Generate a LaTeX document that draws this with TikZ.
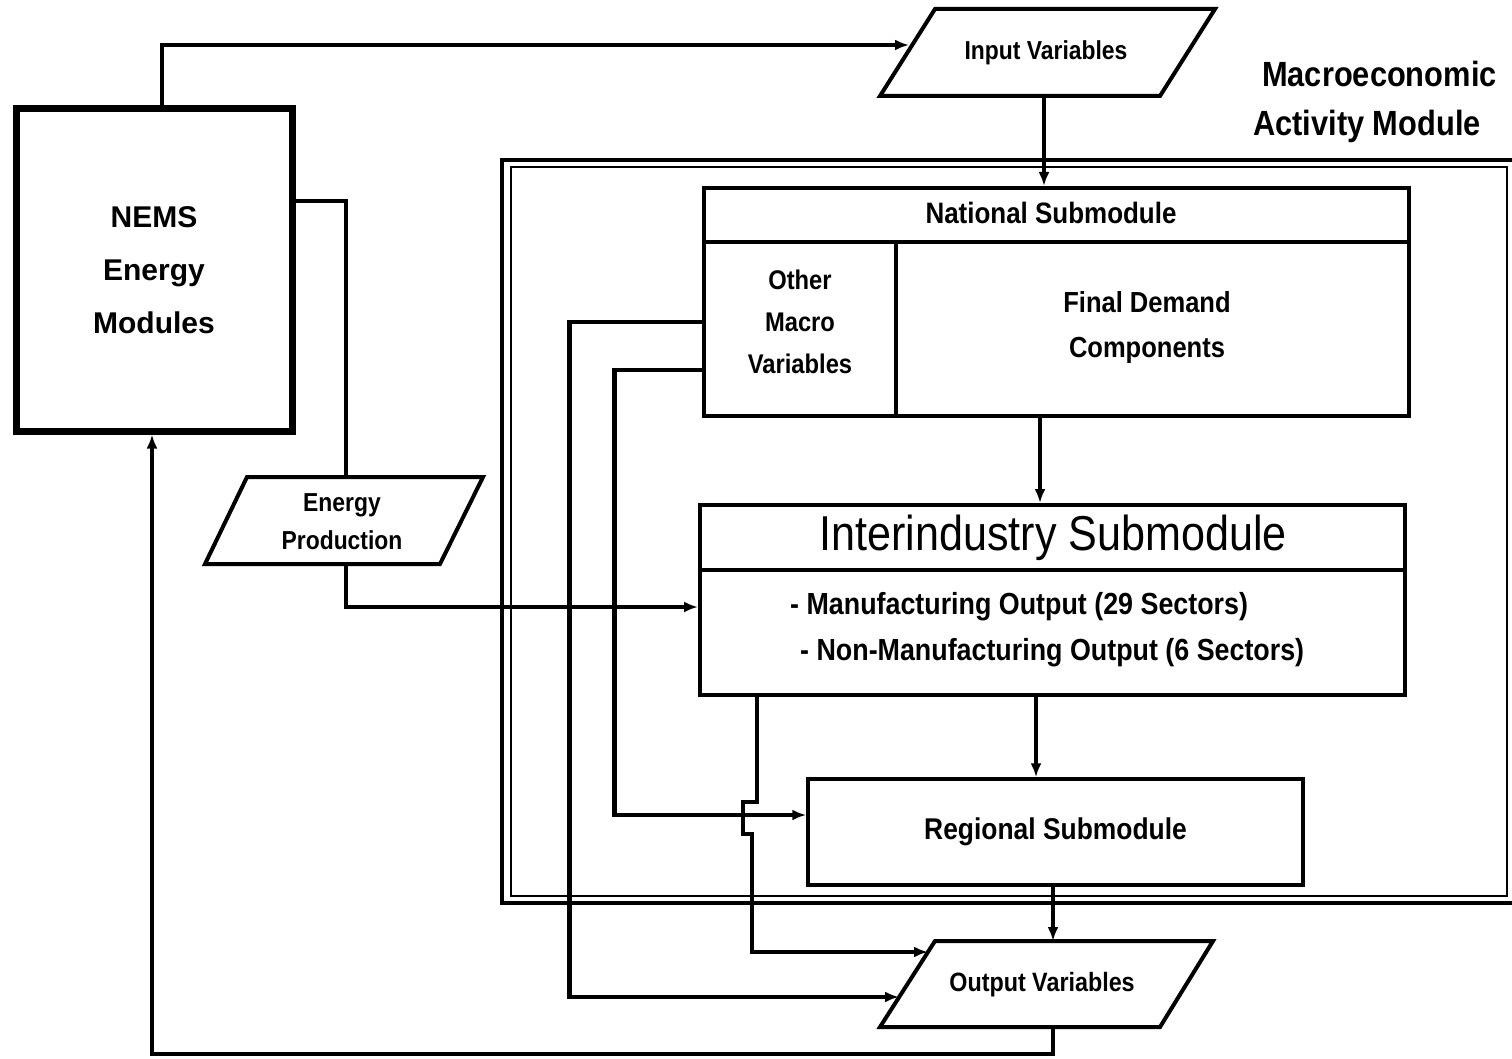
\documentclass[tikz,border=0pt]{standalone}
\usepackage{fontspec}
\setmainfont{Liberation Sans}
\newfontfamily\condfont{Liberation Sans}[FakeStretch=0.88]
\newfontfamily\cb{Liberation Sans}[FakeStretch=0.88]
\usetikzlibrary{arrows.meta}
\begin{document}
\begin{tikzpicture}[x=1pt,y=-1pt,
  box/.style={draw, line width=4pt, inner sep=0pt},
  conn/.style={line width=4.8pt},
  arr/.style={conn, -{Latex[length=14pt,width=11pt]}},
  txt/.style={inner sep=0pt, align=center}]
\clip (0,0) rectangle (1512,1059);
\fill[white] (0,0) rectangle (1512,1059);

% outer double frame of the Macroeconomic Activity Module
\draw[line width=4pt] (502,160) rectangle (1540,903);
\draw[line width=2.5pt] (511,167) rectangle (1507,896);

% NEMS
\node[box, line width=7pt, minimum width=276pt, minimum height=322pt, align=center,
      font=\bfseries\fontsize{30}{53}\selectfont] (nems) at (154,270) {NEMS\\Energy\\Modules};

% Input variables
\draw[line width=4pt] (935,9) -- (1215,9) -- (1160,96) -- (880,96) -- cycle;
\node[txt, font=\cb\bfseries\fontsize{26}{28}\selectfont] (iv) at (1046,53) {Input Variables};
\coordinate (ivW) at (909,45);
\coordinate (ivS) at (1044,96);

% module label
\node[inner sep=0pt, align=left, anchor=west, font=\cb\bfseries\fontsize{35}{49}\selectfont] (mam) at (1253,102) {\hspace*{9pt}Macroeconomic\\Activity Module};

% National submodule
\node[box, minimum width=705pt, minimum height=228pt] (natl) at (1056.5,302) {};
\draw[line width=4pt] (natl.west |- 0,242) -- (natl.east |- 0,242);
\draw[line width=4pt] (896,242) -- (natl.south -| 896,0);
\node[txt, font=\cb\bfseries\fontsize{29.5}{30}\selectfont] (natlT) at (1051,213) {National Submodule};
\node[txt, minimum width=192pt, font=\cb\bfseries\fontsize{27}{42}\selectfont] (omv) at (800,322) {Other\\Macro\\Variables};
\node[txt, font=\cb\bfseries\fontsize{29}{45}\selectfont] (fdc) at (1147,328) {Final Demand\\Components};

% Interindustry submodule
\node[box, minimum width=705pt, minimum height=190pt] (ind) at (1052.5,600) {};
\draw[line width=4pt] (ind.west |- 0,570) -- (ind.east |- 0,570);
\node[inner sep=0pt, font=\condfont\fontsize{49}{50}\selectfont] (indT) at (1053,538) {Interindustry Submodule};
\node[inner sep=0pt, anchor=west, align=left, font=\cb\bfseries\fontsize{30.5}{46}\selectfont] (indB) at (790,630) {- Manufacturing Output (29 Sectors)\\\hspace*{10pt}- Non-Manufacturing Output (6 Sectors)};

% Regional submodule
\node[box, line width=3.5pt, minimum width=495pt, minimum height=106pt,
      font=\cb\bfseries\fontsize{30}{30}\selectfont] (reg) at (1055.5,832) {Regional Submodule};

% Output variables
\draw[line width=4pt] (935,941) -- (1213,941) -- (1160,1027) -- (880,1027) -- cycle;
\node[txt, font=\cb\bfseries\fontsize{26.5}{28}\selectfont] (ov) at (1042,985) {Output Variables};
\coordinate (ovN) at (1053,941);
\coordinate (ovS) at (1053,1027);
\coordinate (ovW1) at (928,952);
\coordinate (ovW2) at (899,997);

% Energy production
\draw[line width=4pt] (247,477) -- (483,477) -- (440,564) -- (205,564) -- cycle;
\node[txt, font=\cb\bfseries\fontsize{26}{38}\selectfont] (ep) at (342,522) {Energy\\Production};
\coordinate (epN) at (346,477);
\coordinate (epS) at (346,564);

% connectors
\draw[arr] ([xshift=8pt]nems.north) |- (ivW);
\draw[arr] (ivS) -- (ivS |- natl.north);
\draw[arr] ([xshift=-16.5pt]natl.south) -- ([xshift=-16.5pt]natl.south |- ind.north);
\draw[arr] ([xshift=-16.5pt]ind.south) -- ([xshift=-16.5pt]ind.south |- reg.north);
\draw[arr] ([xshift=-2.5pt]reg.south) -- ([xshift=-2.5pt]reg.south |- ovN);
\draw[arr] (ovS) -- ++(0,27) -| ([xshift=-2pt]nems.south);
\draw[conn] ([yshift=69pt]nems.east) -| (epN);
\draw[arr] (epS) |- ([yshift=-7pt]ind.west);
\draw[arr] (omv.west) -- ++(-134,0) |- (ovW2);
\draw[arr] ([yshift=-48pt]omv.west) -- ++(-89,0) |- ([yshift=17pt]reg.west);
\draw[arr] ([xshift=-295.5pt]ind.south) -- ++(0,105) -- ++(-14,0) -- ++(0,32) -- ++(9,0) |- (ovW1);
\end{tikzpicture}
\end{document}
